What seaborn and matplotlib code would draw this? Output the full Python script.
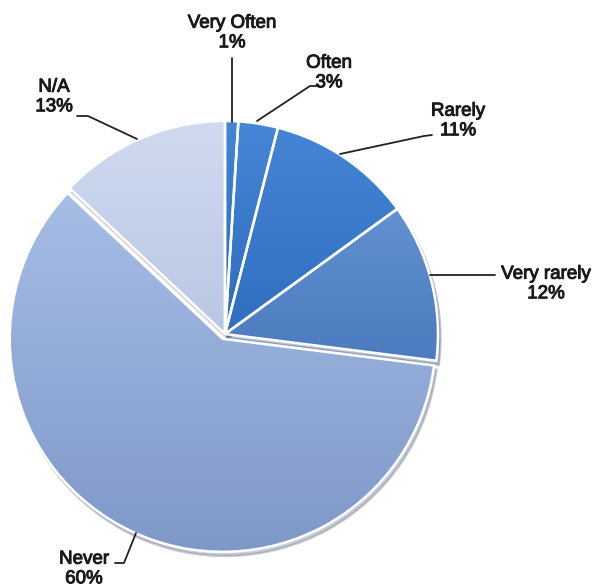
import numpy as np
import matplotlib.pyplot as plt
import matplotlib.patheffects as pe
import seaborn as sns
from matplotlib.colors import LinearSegmentedColormap

sns.set_theme(style="white")
plt.rcParams['font.family'] = ['Liberation Sans', 'DejaVu Sans']

# data, clockwise from the top
categories = ['Very Often', 'Often', 'Rarely', 'Very rarely', 'Never', 'N/A']
shares = [1, 3, 11, 12, 60, 13]

# light (top) / dark (bottom) shade for each slice
tops = ['#4585D6', '#4787D8', '#4685D5', '#6290D2', '#A6BDE6', '#D0DAF0']
bottoms = ['#2C68BA', '#2E6BBC', '#306EC0', '#4B7BBE', '#7E98C8', '#B9C7E4']
explode = [0, 0, 0, 0, 0.025, 0]

# layout helpers: pie centre and radius in pixels
CX, CY, R = 225, 334, 213
W, H = 602, 588


def px(x, y):
    return (x - CX) / R, (CY - y) / R


fig = plt.figure(figsize=(W / 100, H / 100), dpi=100)
ax = fig.add_axes([0, 0, 1, 1])

wedges, _ = ax.pie(shares, startangle=90, counterclock=False, explode=explode,
                   colors=tops,
                   wedgeprops=dict(edgecolor='white', linewidth=1.8),
                   shadow=dict(ox=0.008, oy=-0.014, shade=0.4, alpha=0.35))

# vertical gradient inside each slice
grad = np.linspace(1, 0, 256)[:, None]
for w, c_top, c_bot in zip(wedges, tops, bottoms):
    bb = w.get_path().get_extents()
    cmap = LinearSegmentedColormap.from_list('g', [c_bot, c_top])
    im = ax.imshow(grad, cmap=cmap, aspect='auto', zorder=1.5,
                   extent=[bb.x0, bb.x1, bb.y0, bb.y1], interpolation='bicubic')
    im.set_clip_path(w)
    w.set_facecolor('none')
    w.set_zorder(2)

# labels and leader lines (pixel layout)
label_pos = {
    'Very Often': (232, 33),
    'Often': (329, 73),
    'Rarely': (458, 121),
    'Very rarely': (546, 284),
    'N/A': (54, 97),
    'Never': (84, 569),
}
leaders = {
    'Very Often': [(232, 58), (232, 122)],
    'Often': [(317, 86), (310, 86), (257, 121)],
    'Rarely': [(432, 135), (424, 136), (340, 154)],
    'Very rarely': [(495, 275), (430, 275)],
    'N/A': [(77, 116), (88, 116), (137, 139)],
    'Never': [(115, 563), (124, 563), (136, 533)],
}

thick = [pe.withStroke(linewidth=0.7, foreground='#1a1a1a')]
for name, val in zip(categories, shares):
    x, y = px(*label_pos[name])
    ax.text(x, y, f'{name}\n{val}%', ha='center', va='center',
            fontsize=13.5, linespacing=1.2, color='#1a1a1a', path_effects=thick)
    pts = np.array([px(*p) for p in leaders[name]])
    ax.plot(pts[:, 0], pts[:, 1], color='#222222', lw=1.3, zorder=3)

ax.set_aspect('auto')
ax.set_xlim(-CX / R, (W - CX) / R)
ax.set_ylim(-(H - CY) / R, CY / R)
ax.axis('off')

fig.savefig('out.png', dpi=100, facecolor='white')
